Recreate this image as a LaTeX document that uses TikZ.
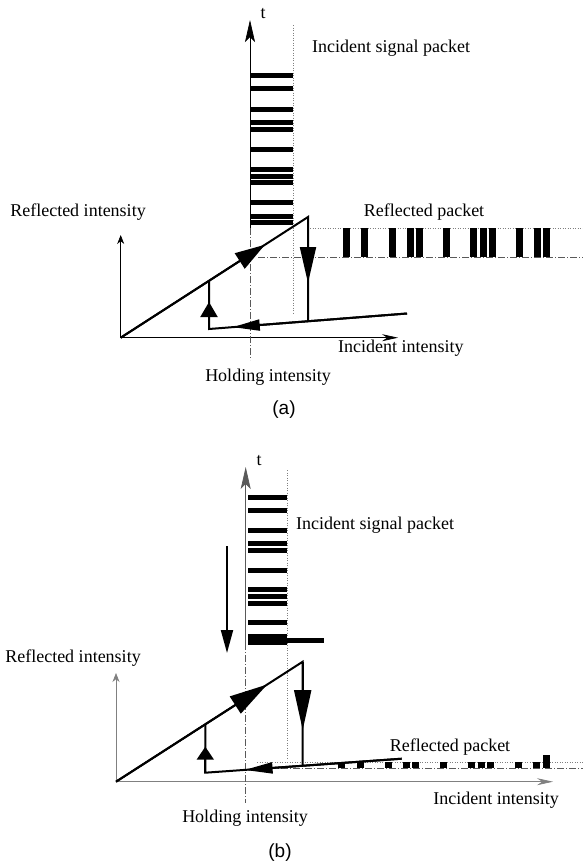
\documentclass[tikz,border=0pt]{standalone}
\usepackage{fontspec}
\setmainfont{Liberation Serif}
\setsansfont{Liberation Sans}
\usetikzlibrary{arrows.meta, calc}

\begin{document}
\begin{tikzpicture}[x=1pt, y=-1pt,
    axisline/.style={line width=0.7pt, -{Stealth[length=9pt, width=7pt]}},
    taxis/.style={line width=0.7pt, -{Stealth[length=22pt, width=10pt, inset=5pt]}},
    loopline/.style={line width=2pt},
    bigtip/.style 2 args={-{Triangle[length=#1pt, width=#2pt]}},
    dotline/.style={gray, dash pattern=on 1pt off 1.5pt, line width=0.6pt},
    dashdot/.style={gray!70!black, dash pattern=on 7pt off 2pt on 1pt off 2pt, line width=0.6pt},
    lbl/.style={font=\fontsize{18}{21}\selectfont, inner sep=0pt},
    captxt/.style={font=\sffamily\fontsize{19}{22}\selectfont, inner sep=0pt}]
    \useasboundingbox (0,0) rectangle (583,865);

    % (a) Reflected packet above threshold (Top)
    \begin{scope}
        \coordinate (Oa) at (120.7,337.7);
        \coordinate (Pa) at (308,217);
        \coordinate (Sa) at (209,280.8);
        \coordinate (Ca) at (209,329);
        \coordinate (Ea) at (407,313.5);
        \coordinate (Da) at (308,321.3);
        \coordinate (Ya) at (120.7,235);
        \coordinate (Xa) at (398,337.7);
        \coordinate (Ta) at (250,20);
        \coordinate (Tma) at (250,228);
        \coordinate (Tla) at (250,360);

        % axes and guide lines
        \draw[axisline] (Oa) -- (Ya);
        \draw[axisline, -{Stealth[length=16pt, width=7pt]}] (Oa) -- (Xa);
        \draw[taxis] (Tma) -- (Ta);
        \draw[dashdot] (Tma) -- (Tla);
        \draw[dotline] (293,25) -- (293,315);
        \draw[dotline] (310,228) -- (583,228);
        \draw[dashdot] (258,257) -- (583,257);

        % incident and reflected bits
        \foreach \s in {0,2,5,7,8,11,14,15,16,19,21,22}
            \fill (251,{73+6.7*\s}) rectangle (293,{78+6.7*\s});
        \foreach \s in {0,2,5,7,8,11,14,15,16,19,21,22}
            \fill ({343+9.1*\s},228) rectangle ({350+9.1*\s},257);

        % hysteresis loop
        \draw[loopline] (Oa) -- (Pa) -- (Da);
        \draw[loopline, bigtip={30}{18}] (Oa) -- ($(Oa)!0.77!(Pa)$);
        \draw[loopline, bigtip={36}{16}] (Pa) -- (308,283);
        \draw[loopline] (Ea) -- (Ca) -- (Sa);
        \draw[loopline, bigtip={27}{11}] (Ea) -- ($(Ca)!0.12!(Ea)$);
        \draw[loopline, bigtip={15}{17}] (Ca) -- (209,302);

        \node[lbl] (ta) at (263,14) {t};
        \node[lbl, anchor=west] (incpa) at (312,48) {Incident signal packet};
        \node[lbl] (refia) at (78,212) {Reflected intensity};
        \node[lbl] (refpa) at (424,212) {Reflected packet};
        \node[lbl, anchor=west] (incia) at (338,348) {Incident intensity};
        \node[lbl] (holda) at (268,377) {Holding intensity};
        \node[captxt] (capa) at (284,410) {(a)};
    \end{scope}

    % (b) Reflected packet below threshold (Bottom)
    \begin{scope}
        \coordinate (Ob) at (116,781.7);
        \coordinate (Pb) at (302.7,661.7);
        \coordinate (Sb) at (205.3,724.3);
        \coordinate (Cb) at (205.3,772.7);
        \coordinate (Eb) at (401.7,758.7);
        \coordinate (Db) at (302.7,765.8);
        \coordinate (Yb) at (116,673);
        \coordinate (Xb) at (553,781.7);
        \coordinate (Tb) at (245.7,467);
        \coordinate (Tmb) at (245.7,643);
        \coordinate (Tlb) at (245.7,803);
        \coordinate (Ab) at (227,546);
        \coordinate (Bb) at (227,653);

        % axes and guide lines
        \draw[axisline, gray] (Ob) -- (Yb);
        \draw[axisline, gray, -{Stealth[length=16pt, width=7pt]}] (Ob) -- (Xb);
        \draw[taxis, gray!70!black] (Tmb) -- (Tb);
        \draw[dashdot] (Tmb) -- (Tlb);
        \draw[dotline] (287,470) -- (287,760);
        \draw[dotline] (257,762) -- (583,762);
        \draw[dashdot] (257,768) -- (583,768);

        % incident and reflected bits
        \foreach \s in {0,2,5,7,8,11,14,15,16,19,21,22}
            \fill (247.7,{495+6.6*\s}) rectangle (287,{500+6.6*\s});
        \fill (247.7,637.7) rectangle (324,643);
        \foreach \s in {0,2,5,7,8,11,14,15,16,19,21}
            \fill ({338+9.3*\s},762) rectangle ({345+9.3*\s},768);
        \fill (542.6,755) rectangle (549.6,768);

        % hysteresis loop
        \draw[line width=2pt, bigtip={23}{12}] (Ab) -- (Bb);
        \draw[loopline] (Ob) -- (Pb) -- (Db);
        \draw[loopline, bigtip={38}{20}] (Ob) -- ($(Ob)!0.81!(Pb)$);
        \draw[loopline, bigtip={40}{17}] (Pb) -- (302.7,730);
        \draw[loopline] (Eb) -- (Cb) -- (Sb);
        \draw[loopline, bigtip={28}{11}] (Eb) -- ($(Cb)!0.2!(Eb)$);
        \draw[loopline, bigtip={13}{17}] (Cb) -- (205.3,746.7);

        \node[lbl] (tb) at (259,461) {t};
        \node[lbl, anchor=west] (incpb) at (296,525) {Incident signal packet};
        \node[lbl] (refib) at (73,658) {Reflected intensity};
        \node[lbl] (refpb) at (450,747) {Reflected packet};
        \node[lbl] (incib) at (496,800) {Incident intensity};
        \node[lbl] (holdb) at (245,818) {Holding intensity};
        \node[captxt] (capb) at (280,853) {(b)};
    \end{scope}
\end{tikzpicture}
\end{document}
